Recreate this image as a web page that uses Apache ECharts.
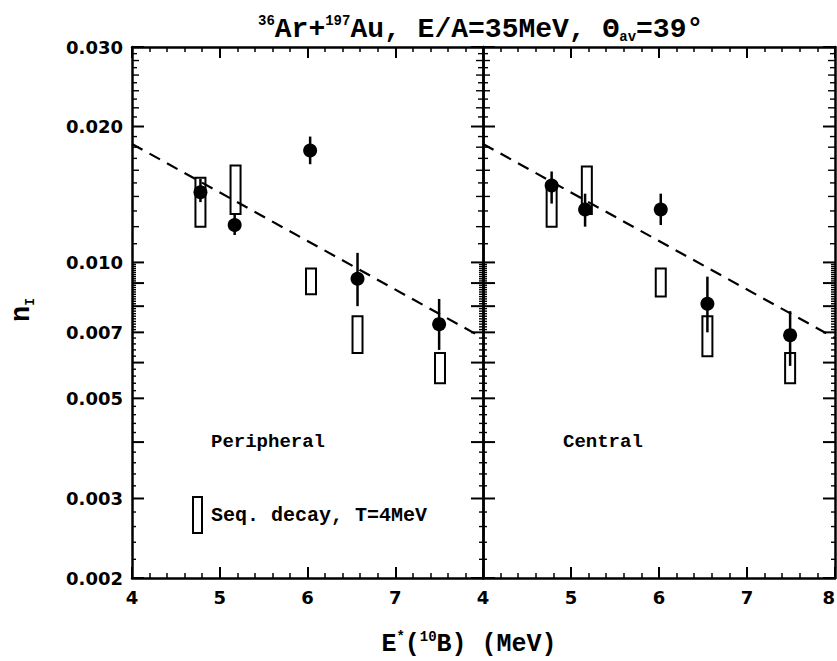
<!DOCTYPE html>
<html>
<head>
<meta charset="utf-8">
<script src="https://cdn.jsdelivr.net/npm/echarts@6/dist/echarts.min.js"></script>
<style>
  html, body { margin: 0; padding: 0; background: #fff; }
  #chart { width: 837px; height: 661px; }
</style>
</head>
<body>
<div id="chart"></div>
<script>
// ---- data: Peripheral panel ----
const perE      = [4.78, 5.17, 6.03, 6.57, 7.50];
const perN      = [0.0143, 0.0121, 0.0177, 0.0092, 0.0073];
const perErrLo  = [0.0136, 0.0115, 0.0165, 0.0080, 0.0064];
const perErrHi  = [0.0153, 0.0128, 0.0190, 0.0105, 0.0083];
const perSeqE   = [4.78, 5.18, 6.04, 6.57, 7.51];
const perSeqLo  = [0.0120, 0.0128, 0.0085, 0.0063, 0.0054];
const perSeqHi  = [0.0154, 0.0164, 0.0097, 0.0076, 0.0063];

// ---- data: Central panel ----
const cenE      = [4.78, 5.16, 6.02, 6.55, 7.49];
const cenN      = [0.0148, 0.0131, 0.0131, 0.0081, 0.0069];
const cenErrLo  = [0.0135, 0.0120, 0.0121, 0.0070, 0.0059];
const cenErrHi  = [0.0159, 0.0142, 0.0142, 0.0093, 0.0078];
const cenSeqE   = [4.78, 5.18, 6.02, 6.55, 7.49];
const cenSeqLo  = [0.0120, 0.0128, 0.0084, 0.0062, 0.0054];
const cenSeqHi  = [0.0150, 0.0163, 0.0097, 0.0076, 0.0063];

// exponential fit exp(-E/T), T = 4 MeV, end points over 4..8 MeV
const fitE = [4, 8];
const fitN = [0.0183, 0.0068];

// ---- axes ----
const xMin = 4, xMax = 8;
const yMin = 0.002, yMax = 0.030;
const yLabelValues = [0.002, 0.003, 0.005, 0.007, 0.010, 0.020, 0.030];
const yLabelTexts  = ['0.002', '0.003', '0.005', '0.007', '0.010', '0.020', '0.030'];
const yMajorTicks  = [0.002, 0.003, 0.004, 0.005, 0.006, 0.007, 0.008, 0.009, 0.010, 0.020, 0.030];

// minor tick positions on the log axis
const yMinorTicks = [];
for (let k = 11; k <= 34; k++) { const v = k * 0.0002; if (Math.abs(v * 1000 - Math.round(v * 1000)) > 1e-6) yMinorTicks.push([v, 4]); }
for (let k = 71; k <= 99; k++) { if (k % 10 !== 0) yMinorTicks.push([k * 0.0001, 4]); }
for (let k = 11; k <= 29; k++) { if (k !== 20) yMinorTicks.push([k * 0.001, k % 2 === 0 ? 7 : 5]); }

const MONO = '"Liberation Mono", "Courier New", monospace';
const SANS = '"DejaVu Sans", sans-serif';

const zip3 = (a, b, c) => a.map((v, i) => [v, b[i], c[i]]);
const zip2 = (a, b) => a.map((v, i) => [v, b[i]]);

function tickData() {
  const d = yMajorTicks.map(v => [xMin, v, 12, 2]);
  yMinorTicks.forEach(t => d.push([xMin, t[0], t[1], 1.4]));
  return d;
}

function ticksSeries(ax) {
  return {
    type: 'custom', xAxisIndex: ax, yAxisIndex: ax, silent: true, z: 1,
    encode: { x: 0, y: 1 },
    data: tickData(),
    renderItem: function (params, api) {
      const v = api.value(1), len = api.value(2), lw = api.value(3);
      const a = api.coord([xMin, v]), b = api.coord([xMax, v]);
      return {
        type: 'group',
        children: [
          { type: 'line', shape: { x1: a[0], y1: a[1], x2: a[0] + len, y2: a[1] }, style: { stroke: '#000', lineWidth: lw } },
          { type: 'line', shape: { x1: b[0] - len, y1: b[1], x2: b[0], y2: b[1] }, style: { stroke: '#000', lineWidth: lw } }
        ]
      };
    }
  };
}

function yLabelSeries() {
  return {
    type: 'custom', xAxisIndex: 0, yAxisIndex: 0, silent: true,
    encode: { x: 0, y: 1 },
    data: yLabelValues.map((v, i) => [xMin, v, i]),
    renderItem: function (params, api) {
      const p = api.coord([xMin, api.value(1)]);
      return {
        type: 'text', x: p[0] - 9, y: p[1],
        style: {
          text: yLabelTexts[api.value(2)], fill: '#000',
          font: 'bold 18px ' + SANS, align: 'right', verticalAlign: 'middle'
        }
      };
    }
  };
}

function errSeries(ax, data) {
  return {
    type: 'custom', xAxisIndex: ax, yAxisIndex: ax, z: 3,
    encode: { x: 0, y: [1, 2] },
    data: data,
    renderItem: function (params, api) {
      const lo = api.coord([api.value(0), api.value(1)]);
      const hi = api.coord([api.value(0), api.value(2)]);
      return { type: 'line', shape: { x1: lo[0], y1: lo[1], x2: hi[0], y2: hi[1] }, style: { stroke: '#000', lineWidth: 2.5 } };
    }
  };
}

function seqSeries(ax, data) {
  return {
    type: 'custom', xAxisIndex: ax, yAxisIndex: ax, z: 2,
    encode: { x: 0, y: [1, 2] },
    data: data,
    renderItem: function (params, api) {
      const lo = api.coord([api.value(0), api.value(1)]);
      const hi = api.coord([api.value(0), api.value(2)]);
      return {
        type: 'rect',
        shape: { x: lo[0] - 5, y: hi[1], width: 10, height: lo[1] - hi[1] },
        style: { fill: 'none', stroke: '#000', lineWidth: 2 }
      };
    }
  };
}

function fitSeries(ax) {
  return {
    type: 'line', xAxisIndex: ax, yAxisIndex: ax, z: 1,
    data: zip2(fitE, fitN), showSymbol: false, silent: true,
    lineStyle: { color: '#000', width: 2.2, type: [12, 8] }
  };
}

function pointSeries(ax, e, n) {
  return {
    type: 'scatter', xAxisIndex: ax, yAxisIndex: ax, z: 4,
    data: zip2(e, n), symbol: 'circle', symbolSize: 14,
    itemStyle: { color: '#000', opacity: 1 }
  };
}

const axisLine = { show: true, onZero: false, lineStyle: { color: '#000', width: 2.5 } };

function xAxis(grid, pos, labels, hideMax) {
  return {
    type: 'value', gridIndex: grid, position: pos, min: xMin, max: xMax, interval: 1,
    axisLine: axisLine,
    axisTick: { show: true, inside: true, length: 11, lineStyle: { color: '#000', width: 2 } },
    minorTick: { show: true, splitNumber: 5, length: 5, lineStyle: { color: '#000', width: 1.5 } },
    splitLine: { show: false }, minorSplitLine: { show: false },
    axisLabel: {
      show: labels, showMaxLabel: !hideMax, alignMaxLabel: hideMax ? null : 'right',
      margin: 10, color: '#000',
      fontFamily: SANS, fontWeight: 'bold', fontSize: 18
    }
  };
}

function yAxis(grid, pos) {
  return {
    type: 'log', logBase: 10, gridIndex: grid, position: pos, min: yMin, max: yMax,
    axisLine: axisLine,
    axisTick: { show: false }, minorTick: { show: false },
    splitLine: { show: false }, minorSplitLine: { show: false },
    axisLabel: { show: false }
  };
}

const chart = echarts.init(document.getElementById('chart'), null, { renderer: 'svg' });

chart.setOption({
  animation: false,
  backgroundColor: '#fff',
  grid: [
    { left: 132, top: 47, width: 351, height: 531, outerBoundsMode: 'none', containLabel: false },
    { left: 483, top: 47, width: 352, height: 531, outerBoundsMode: 'none', containLabel: false }
  ],
  xAxis: [
    xAxis(0, 'bottom', true, true),
    xAxis(0, 'top', false, false),
    xAxis(1, 'bottom', true, false),
    xAxis(1, 'top', false, false)
  ],
  yAxis: [
    yAxis(0, 'left'),
    yAxis(0, 'right'),
    yAxis(1, 'left'),
    yAxis(1, 'right')
  ],
  series: [
    ticksSeries(0),
    ticksSeries(2),
    yLabelSeries(),
    fitSeries(0),
    fitSeries(2),
    seqSeries(0, zip3(perSeqE, perSeqLo, perSeqHi)),
    seqSeries(2, zip3(cenSeqE, cenSeqLo, cenSeqHi)),
    errSeries(0, zip3(perE, perErrLo, perErrHi)),
    errSeries(2, zip3(cenE, cenErrLo, cenErrHi)),
    pointSeries(0, perE, perN),
    pointSeries(2, cenE, cenN)
  ],
  graphic: [
    {
      type: 'text', x: 258, y: 14,
      style: {
        text: '{s|36}{m|Ar+}{s|197}{m|Au, E/A=35MeV, Θ}{b|av}{m|=39°}',
        fill: '#000',
        rich: {
          m: { fontFamily: MONO, fontWeight: 'bold', fontSize: 28, lineHeight: 30 },
          s: { fontFamily: MONO, fontWeight: 'bold', fontSize: 14, lineHeight: 20, verticalAlign: 'top' },
          b: { fontFamily: MONO, fontWeight: 'bold', fontSize: 14, lineHeight: 10, verticalAlign: 'bottom' }
        }
      }
    },
    {
      type: 'text', x: 469, y: 630,
      style: {
        text: '{m|E}{s|*}{m|(}{s|10}{m|B) (MeV)}',
        fill: '#000', align: 'center',
        rich: {
          m: { fontFamily: MONO, fontWeight: 'bold', fontSize: 25, lineHeight: 28 },
          s: { fontFamily: MONO, fontWeight: 'bold', fontSize: 14, lineHeight: 18, verticalAlign: 'top' }
        }
      }
    },
    {
      type: 'text', x: 22, y: 310, rotation: Math.PI / 2,
      style: {
        text: '{m|n}{b|I}', fill: '#000', align: 'center', verticalAlign: 'middle',
        rich: {
          m: { fontFamily: MONO, fontWeight: 'bold', fontSize: 27, lineHeight: 30 },
          b: { fontFamily: MONO, fontWeight: 'bold', fontSize: 13, lineHeight: 10, verticalAlign: 'bottom' }
        }
      }
    },
    {
      type: 'text', x: 211, y: 442,
      style: { text: 'Peripheral', fill: '#000', font: 'bold 19px ' + MONO, align: 'left', verticalAlign: 'middle' }
    },
    {
      type: 'text', x: 563, y: 442,
      style: { text: 'Central', fill: '#000', font: 'bold 19px ' + MONO, align: 'left', verticalAlign: 'middle' }
    },
    {
      type: 'rect', shape: { x: 193, y: 497, width: 9, height: 36 },
      style: { fill: 'none', stroke: '#000', lineWidth: 2 }
    },
    {
      type: 'text', x: 211, y: 515,
      style: { text: 'Seq. decay, T=4MeV', fill: '#000', font: 'bold 20px ' + MONO, align: 'left', verticalAlign: 'middle' }
    }
  ]
});
</script>
</body>
</html>
